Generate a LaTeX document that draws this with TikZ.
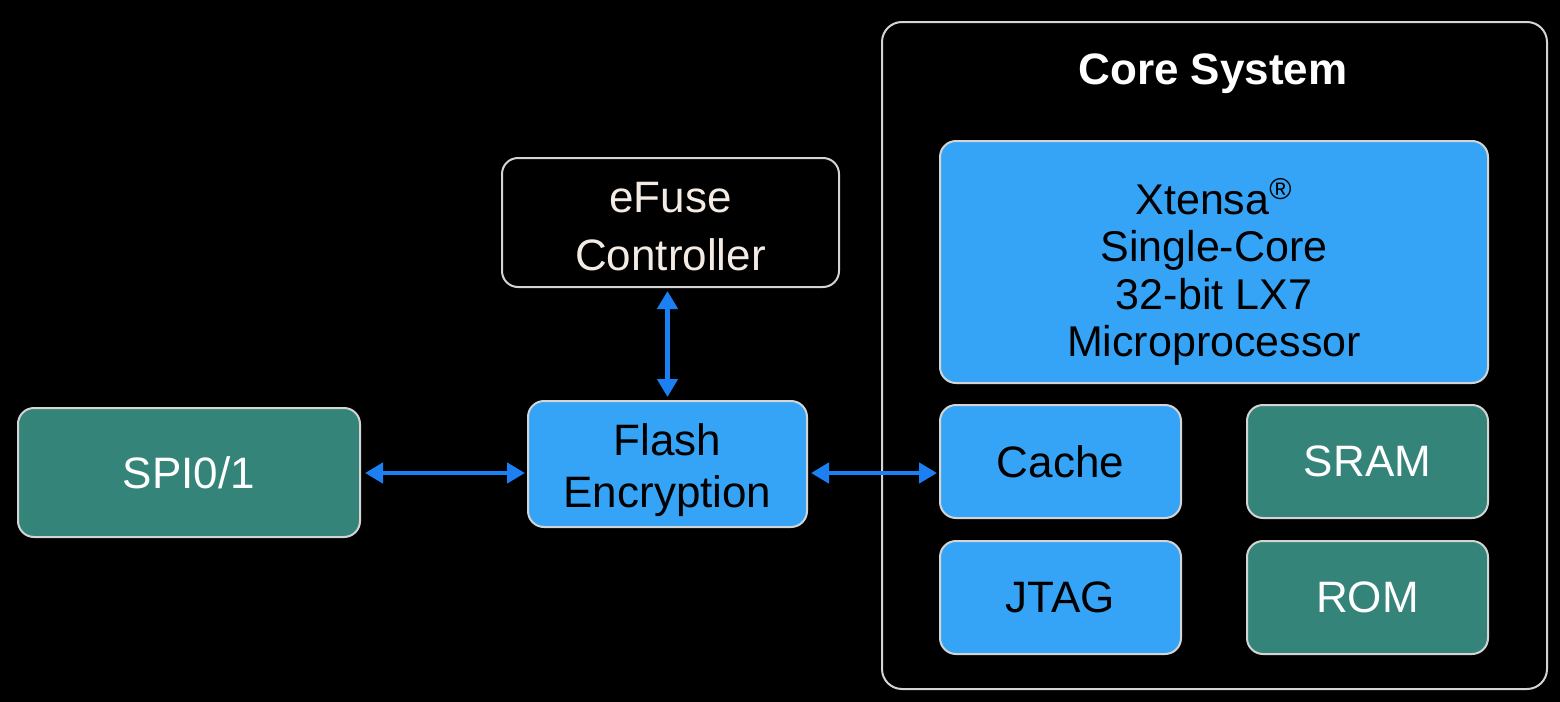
\documentclass[tikz,border=0pt]{standalone}
\usepackage{fontspec}
\setmainfont{Liberation Sans}
\usetikzlibrary{arrows.meta}
\definecolor{bluebox}{HTML}{36A4F6}
\definecolor{tealbox}{HTML}{35847A}
\definecolor{arrowblue}{HTML}{1C80F2}
\definecolor{edgegray}{HTML}{D4D4D4}
\definecolor{efusetext}{HTML}{F4ECE4}
\tikzset{
  box/.style={draw=edgegray, line width=1pt, rounded corners=8pt, align=center,
    inner sep=0pt, font=\fontsize{22}{27}\selectfont},
  bluebx/.style={box, fill=bluebox, text=black},
  tealbx/.style={box, fill=tealbox, text=white},
  darkbx/.style={box, fill=black, text=efusetext},
  boxtext/.style={align=center, inner sep=0pt},
  link/.style={arrowblue, line width=2.3pt, {Triangle[length=9pt,width=10pt]}-{Triangle[length=9pt,width=10pt]}},
}
\begin{document}
\begin{tikzpicture}[x=0.5pt, y=-0.5pt]
\fill[black] (0,0) rectangle (1560,702);
\useasboundingbox (0,0) rectangle (1560,702);
% core system frame
\node[draw=edgegray, line width=1pt, rounded corners=10pt, minimum width=332.5pt, minimum height=333.5pt, inner sep=0pt] (core) at (1214.5,355.5) {};
\node[text=white, font=\fontsize{22}{26}\selectfont\bfseries] (title) at (1213,74) {Core System};
\node[bluebx, minimum width=274pt, minimum height=121pt] (xtensa) at (1214,262) {};
\node[boxtext, text=black, font=\fontsize{21.5}{23.6}\selectfont] (xtensatext) at (1214,272) {Xtensa\textsuperscript{\textregistered}\\Single-Core\\32-bit LX7\\Microprocessor};
\node[bluebx, minimum width=120.5pt, minimum height=56.5pt] (cache) at (1060.5,461.5) {Cache};
\node[tealbx, minimum width=120.5pt, minimum height=56.5pt] (sram) at (1367.5,461.5) {SRAM};
\node[bluebx, minimum width=120.5pt, minimum height=56.5pt] (jtag) at (1060.5,597.5) {JTAG};
\node[tealbx, minimum width=120.5pt, minimum height=56.5pt] (rom) at (1367.5,597.5) {ROM};
% left side
\node[darkbx, minimum width=168.5pt, minimum height=64.5pt] (efuse) at (670.5,222.5) {};
\node[boxtext, text=efusetext, font=\fontsize{22}{29}\selectfont] (efusetext) at (670.5,227) {eFuse\\Controller};
\node[bluebx, minimum width=139.5pt, minimum height=63pt] (flash) at (667.5,464) {};
\node[boxtext, text=black, font=\fontsize{22}{26}\selectfont] (flashtext) at (667.5,470) {Flash\\Encryption};
\node[tealbx, minimum width=171pt, minimum height=64.5pt] (spi) at (189,472.5) {SPI0/1};
% connectors
\coordinate (busy) at (0,473);
\draw[link, shorten <=2pt, shorten >=1pt] (spi.east |- busy) -- (flash.west |- busy);
\draw[link, shorten <=1.5pt, shorten >=1pt] (flash.east |- busy) -- (cache.west |- busy);
\draw[link, shorten <=1.5pt, shorten >=1.5pt] (efuse.south -| flash.north) -- (flash.north);
\end{tikzpicture}
\end{document}
